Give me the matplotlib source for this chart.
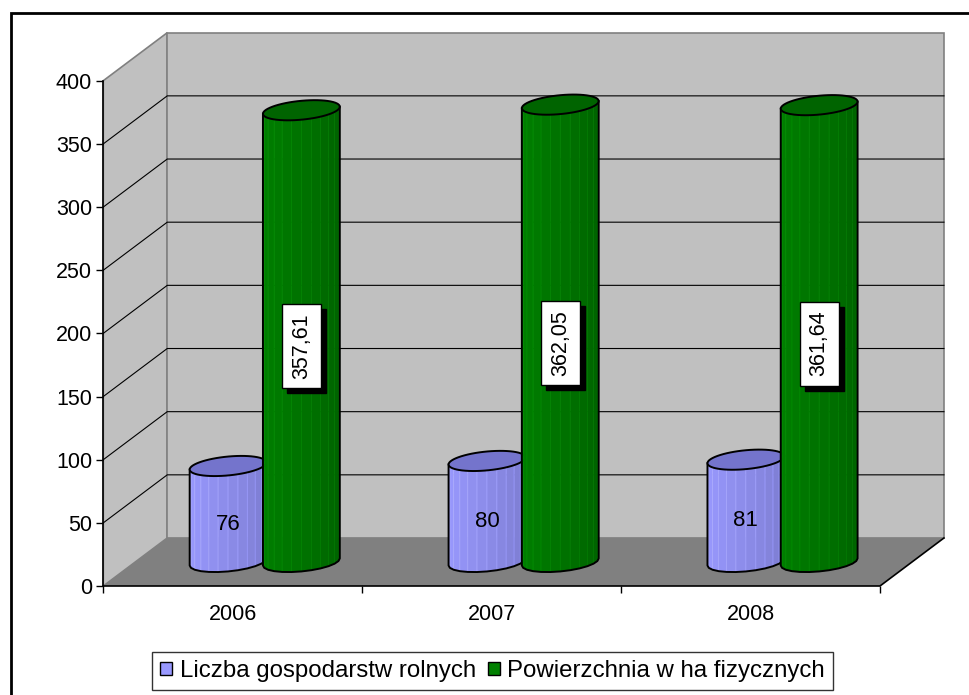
import numpy as np
import matplotlib
matplotlib.use('Agg')
import matplotlib.pyplot as plt
from matplotlib.patches import Polygon, Patch, Rectangle
from matplotlib.transforms import offset_copy

plt.rcParams['font.family'] = ['Liberation Sans', 'DejaVu Sans']

# data
years = ['2006', '2007', '2008']
farms = [76, 80, 81]
area = [357.61, 362.05, 361.64]
farms_labels = ['76', '80', '81']
area_labels = ['357,61', '362,05', '361,64']
series_names = ['Liczba gospodarstw rolnych', 'Powierzchnia w ha fizycznych']
yticks = [0, 50, 100, 150, 200, 250, 300, 350, 400]

# 3d look: depth of the box in data units
DX = 0.247   # category units
DY = 38.0    # value units
BAR_SHIFT = 0.1415
RAD_X = 0.139
RAD_D = 0.21   # radius in depth as fraction of box depth

W, H = 969, 695
fig = plt.figure(figsize=(W / 100, H / 100), dpi=100)
fig.patch.set_facecolor('white')
ax = fig.add_axes([103.3 / W, (H - 586) / H, (880 - 103.3) / W, (586 - 80.7) / H])
ax.set_xlim(0, 3)
ax.set_ylim(0, 400)
ax.patch.set_visible(False)
for s in ['top', 'right', 'bottom']:
    ax.spines[s].set_visible(False)
ax.spines['left'].set_linewidth(1.2)
ax.spines['left'].set_zorder(6)

ax.set_yticks(yticks)
ax.tick_params(axis='y', length=5, width=1, pad=3, labelsize=15.5)
ax.set_xticks([0, 1, 2, 3])
ax.set_xticklabels([])
ax.tick_params(axis='x', which='major', length=5, width=1)
ax.set_xticks([0.5, 1.5, 2.5], minor=True)
ax.set_xticklabels(years, minor=True)
ax.tick_params(axis='x', which='minor', length=0, pad=13, labelsize=15.5)

wall_c = '#c0c0c0'
edge_c = '#808080'
# left wall and back wall
ax.add_patch(Polygon([(0, 0), (DX, DY), (DX, 400 + DY), (0, 400)], closed=True,
                     facecolor=wall_c, edgecolor=edge_c, lw=1.2, clip_on=False, zorder=1))
ax.add_patch(Polygon([(DX, DY), (3 + DX, DY), (3 + DX, 400 + DY), (DX, 400 + DY)], closed=True,
                     facecolor=wall_c, edgecolor=edge_c, lw=1.2, clip_on=False, zorder=1))
for v in yticks[1:-1]:
    ax.plot([0, DX, 3 + DX], [v, v + DY, v + DY], color='black', lw=0.8, clip_on=False, zorder=2)
# floor
ax.add_patch(Polygon([(0, 0), (3, 0), (3 + DX, DY), (DX, DY)], closed=True,
                     facecolor='#808080', edgecolor='none', clip_on=False, zorder=3))
ax.plot([0, 3, 3 + DX], [0, 0, DY], color='black', lw=1.2, clip_on=False, zorder=4)


def shade(rgb, f):
    return tuple(min(1, c * f) for c in rgb)


def cylinder(cx, value, body, top, dark=0.75, n=24):
    base = 0.5 * DY
    th0 = np.arctan2(RAD_D * DX, RAD_X)
    th = np.linspace(np.pi + th0, 2 * np.pi + th0, n // 2 + 1)
    ex = cx + RAD_X * np.cos(th) + RAD_D * DX * np.sin(th)
    ey = RAD_D * DY * np.sin(th)
    # facets
    for k in range(len(th) - 1):
        t = (k + 0.5) / (len(th) - 1)
        f = 1 - (1 - dark) * t ** 1.3
        poly = [(ex[k], base + ey[k]), (ex[k + 1], base + ey[k + 1]),
                (ex[k + 1], base + value + ey[k + 1]), (ex[k], base + value + ey[k])]
        ax.add_patch(Polygon(poly, closed=True, facecolor=shade(body, f),
                             edgecolor=shade(body, min(1.25, f + 0.15)), lw=0.5,
                             clip_on=False, zorder=5))
    # outline of body
    ox = np.concatenate([[ex[0]], ex, [ex[-1]]])
    oy = np.concatenate([[base + value + ey[0]], base + ey, [base + value + ey[-1]]])
    ax.plot(ox, oy, color='black', lw=1.4, clip_on=False, zorder=5, solid_joinstyle='round')
    # top ellipse
    ta = np.linspace(0, 2 * np.pi, 60)
    tx = cx + RAD_X * np.cos(ta) + RAD_D * DX * np.sin(ta)
    ty = base + value + RAD_D * DY * np.sin(ta)
    ax.add_patch(Polygon(np.column_stack([tx, ty]), closed=True, facecolor=top,
                         edgecolor='black', lw=1.4, clip_on=False, zorder=5))


blue = (0.6, 0.6, 1.0)
green = (0.0, 0.5, 0.0)
for i in range(len(years)):
    c0 = i + 0.5 + 0.5 * DX
    cylinder(c0 - BAR_SHIFT, farms[i], blue, '#7474cc', dark=0.78)
    cylinder(c0 + BAR_SHIFT, area[i], green, '#006400', dark=0.74)

    ly = 0.5 * DY - RAD_D * DY
    ax.text(c0 - BAR_SHIFT, ly + farms[i] / 2, farms_labels[i], ha='center', va='center',
            fontsize=16, zorder=7)
    shadow_tr = offset_copy(ax.transData, fig=fig, x=5, y=-5, units='dots')
    ax.text(c0 + BAR_SHIFT, ly + area[i] / 2, area_labels[i], ha='center', va='center',
            rotation=90, fontsize=15.5, color='black', transform=shadow_tr, zorder=7,
            bbox=dict(boxstyle='square,pad=0.42', facecolor='black', edgecolor='black', lw=1))
    ax.text(c0 + BAR_SHIFT, ly + area[i] / 2, area_labels[i], ha='center', va='center',
            rotation=90, fontsize=15.5, color='black', zorder=8,
            bbox=dict(boxstyle='square,pad=0.42', facecolor='white', edgecolor='black', lw=1))

handles = [Patch(facecolor=blue, edgecolor='black', lw=1),
           Patch(facecolor=green, edgecolor='black', lw=1)]
leg = fig.legend(handles, series_names, loc='center', bbox_to_anchor=(492.5 / W, 1 - 671 / H),
                 ncol=2, fontsize=17.3, frameon=True, fancybox=False, edgecolor='black',
                 handlelength=0.5, handleheight=0.5, handletextpad=0.3, columnspacing=0.5,
                 borderpad=0.35)
leg.get_frame().set_linewidth(1)

# outer chart border (clipped by the image edge on right and bottom)
fig.add_artist(Rectangle((10.7 / W, -0.05), 1.1, 1 - 12.7 / H + 0.05, transform=fig.transFigure,
                         facecolor='none', edgecolor='black', lw=2))

fig.savefig('out.png', dpi=100)
